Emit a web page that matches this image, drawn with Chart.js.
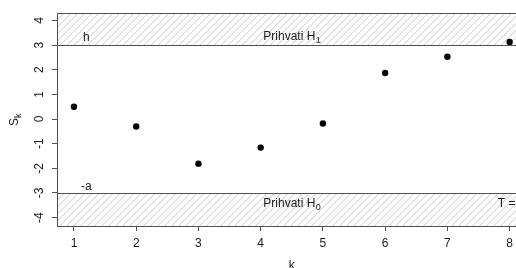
<!DOCTYPE html>
<html><head><meta charset="utf-8">
<script src="https://cdn.jsdelivr.net/npm/chart.js@4/dist/chart.umd.min.js"></script>
<style>
html,body{margin:0;padding:0;background:#fff;overflow:hidden;width:516px;height:268px}
#wrap{position:relative;width:530px;height:268px}
</style>
</head><body><div id="wrap"><canvas id="c" width="530" height="268"></canvas></div>
<script>
// ---- data ----
const kValues = [1, 2, 3, 4, 5, 6, 7, 8];
const sValues = [0.5, -0.3, -1.81, -1.16, -0.18, 1.87, 2.53, 3.13];
const xTicks = [1, 2, 3, 4, 5, 6, 7, 8];
const yTicks = [-4, -3, -2, -1, 0, 1, 2, 3, 4];
const upperH = 3;     // h
const lowerA = -3;    // -a
const xRange = [0.727, 8.273];
const yRange = [-4.34, 4.29];
const upperLabel = 'h';
const lowerLabel = '-a';
const acceptH1 = ['Prihvati H', '1'];
const acceptH0 = ['Prihvati H', '0'];
const stopLabel = 'T =';
const xTitle = 'k';
const yTitle = ['S', 'k'];

const FONT = '"Liberation Sans", Arial, Helvetica, sans-serif';
const LINE = '#505050';
const TEXT = '#1a1a1a';

function hatch(ctx, x0, x1, yTop, yBot) {
  ctx.save();
  ctx.beginPath();
  ctx.rect(x0, yTop, x1 - x0, yBot - yTop);
  ctx.clip();
  ctx.strokeStyle = '#c8c8c8';
  ctx.lineWidth = 1;
  const h = yBot - yTop;
  ctx.beginPath();
  for (let x = x0 - h - 7; x < x1 + 7; x += 7) {
    ctx.moveTo(x, yBot);
    ctx.lineTo(x + h, yTop);
  }
  ctx.stroke();
  ctx.restore();
}

function subText(ctx, parts, x, y, align) {
  ctx.font = '12px ' + FONT;
  const w1 = ctx.measureText(parts[0]).width;
  ctx.font = '9px ' + FONT;
  const w2 = ctx.measureText(parts[1]).width;
  let sx = x;
  if (align === 'center') sx = x - (w1 + w2) / 2;
  ctx.textAlign = 'left';
  ctx.textBaseline = 'alphabetic';
  ctx.font = '12px ' + FONT;
  ctx.fillText(parts[0], sx, y);
  ctx.font = '9px ' + FONT;
  ctx.fillText(parts[1], sx + w1 + 0.5, y + 3);
}

const decor = {
  id: 'decor',
  beforeDatasetsDraw(chart) {
    const ctx = chart.ctx, a = chart.chartArea;
    const xs = chart.scales.x, ys = chart.scales.y;
    const pH = Math.round(ys.getPixelForValue(upperH)) + 0.5;
    const pA = Math.round(ys.getPixelForValue(lowerA)) + 0.5;
    hatch(ctx, a.left, a.right, a.top, pH);
    hatch(ctx, a.left, a.right, pA, a.bottom);
    ctx.save();
    ctx.strokeStyle = LINE;
    ctx.lineWidth = 1;
    ctx.beginPath();
    ctx.moveTo(a.left, pH); ctx.lineTo(a.right, pH);
    ctx.moveTo(a.left, pA); ctx.lineTo(a.right, pA);
    ctx.stroke();
    const L = Math.round(a.left) + 0.5, T = Math.round(a.top) + 0.5;
    const R = Math.round(a.right) + 0.5, B = Math.round(a.bottom) + 0.5;
    ctx.strokeRect(L, T, R - L, B - T);
    ctx.fillStyle = TEXT;
    // text annotations
    ctx.font = '12px ' + FONT;
    ctx.textAlign = 'center';
    ctx.textBaseline = 'alphabetic';
    ctx.fillText(upperLabel, xs.getPixelForValue(1.2), ys.getPixelForValue(3.17));
    ctx.fillText(lowerLabel, xs.getPixelForValue(1.2), ys.getPixelForValue(-2.88));
    subText(ctx, acceptH1, xs.getPixelForValue(4.5), ys.getPixelForValue(3.22), 'center');
    subText(ctx, acceptH0, xs.getPixelForValue(4.5), ys.getPixelForValue(-3.555), 'center');
    ctx.font = '12px ' + FONT;
    ctx.textAlign = 'left';
    ctx.fillText(stopLabel, xs.getPixelForValue(7.81), ys.getPixelForValue(-3.567));
    // y tick labels (rotated like R)
    ctx.font = '12px ' + FONT;
    ctx.textAlign = 'center';
    ctx.textBaseline = 'alphabetic';
    yTicks.forEach(v => {
      const py = ys.getPixelForValue(v);
      ctx.save();
      ctx.translate(43, py);
      ctx.rotate(-Math.PI / 2);
      ctx.fillText(String(v), 0, 0);
      ctx.restore();
    });
    // axis titles
    ctx.textAlign = 'center';
    ctx.fillText(xTitle, (a.left + a.right) / 2, 269);
    ctx.save();
    ctx.translate(18, (a.top + a.bottom) / 2);
    ctx.rotate(-Math.PI / 2);
    ctx.font = '12px ' + FONT;
    const w1 = ctx.measureText(yTitle[0]).width;
    ctx.font = '9px ' + FONT;
    const w2 = ctx.measureText(yTitle[1]).width;
    const sx = -(w1 + w2) / 2;
    ctx.textAlign = 'left';
    ctx.font = '12px ' + FONT;
    ctx.fillText(yTitle[0], sx, 0);
    ctx.font = '9px ' + FONT;
    ctx.fillText(yTitle[1], sx + w1, 3);
    ctx.restore();
    ctx.restore();
  }
};

new Chart(document.getElementById('c'), {
  type: 'scatter',
  data: {
    datasets: [{
      data: kValues.map((k, i) => ({ x: k, y: sValues[i] })),
      backgroundColor: '#000',
      borderColor: '#000',
      pointRadius: 3.2,
      pointHoverRadius: 3.2,
      borderWidth: 0
    }]
  },
  options: {
    responsive: false,
    animation: false,
    events: [],
    layout: { padding: { left: 0, right: 3.4, top: 13.3, bottom: 0 } },
    plugins: { legend: { display: false }, tooltip: { enabled: false } },
    scales: {
      x: {
        type: 'linear',
        min: xRange[0], max: xRange[1],
        afterBuildTicks: s => { s.ticks = xTicks.map(v => ({ value: v })); },
        afterFit: s => { s.height = 42; },
        border: { display: false },
        grid: { drawOnChartArea: false, drawTicks: true, tickLength: 5, color: LINE, lineWidth: 1 },
        ticks: { color: TEXT, font: { family: FONT, size: 12 }, padding: 5, maxRotation: 0, autoSkip: false,
                 callback: v => String(v) }
      },
      y: {
        type: 'linear',
        min: yRange[0], max: yRange[1],
        afterBuildTicks: s => { s.ticks = yTicks.map(v => ({ value: v })); },
        afterFit: s => { s.width = 57; },
        border: { display: false },
        grid: { drawOnChartArea: false, drawTicks: true, tickLength: 5, color: LINE, lineWidth: 1 },
        ticks: { display: false }
      }
    }
  },
  plugins: [decor]
});
</script>
</body></html>
